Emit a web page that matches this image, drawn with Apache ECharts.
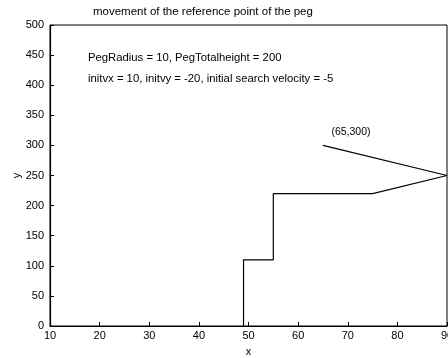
<!DOCTYPE html>
<html>
<head>
<meta charset="utf-8">
<script src="https://cdn.jsdelivr.net/npm/echarts@6/dist/echarts.min.js"></script>
<style>
html,body{margin:0;padding:0;background:#fff;}
#c{width:448px;height:358px;}
</style>
</head>
<body>
<div id="c"></div>
<script>
const pathX = [49, 49, 55, 55, 75, 90, 65];
const pathY = [0, 110, 110, 220, 220, 250, 300];
const xTicks = [10, 20, 30, 40, 50, 60, 70, 80, 90];
const yTicks = [0, 50, 100, 150, 200, 250, 300, 350, 400, 450, 500];
const titleText = 'movement of the reference point of the peg';
const note1 = 'PegRadius = 10, PegTotalheight = 200';
const note2 = 'initvx = 10, initvy = -20, initial search velocity = -5';
const pointLabel = '(65,300)';
const labelPoint = [65, 300];

const FONT = 'Liberation Sans, Arial, Helvetica, sans-serif';
const chart = echarts.init(document.getElementById('c'));
const data = pathX.map((x, i) => [x, pathY[i]]);

chart.setOption({
  animation: false,
  backgroundColor: '#fff',
  grid: { left: 50, right: 1, top: 25, bottom: 32, show: true, borderColor: '#000', borderWidth: 1,
          containLabel: false, outerBoundsMode: 'none' },
  xAxis: {
    type: 'value', min: xTicks[0], max: xTicks[xTicks.length - 1], interval: 10,
    name: 'x', nameLocation: 'middle', nameGap: 20, nameMoveOverlap: false,
    nameTextStyle: { color: '#000', fontSize: 11, fontFamily: FONT },
    axisLine: { lineStyle: { color: '#000', width: 1.2 } },
    axisTick: { inside: true, length: 4, lineStyle: { color: '#000' } },
    axisLabel: { color: '#000', fontSize: 11, fontFamily: FONT, margin: 4, showMaxLabel: true, hideOverlap: false },
    splitLine: { show: false }
  },
  yAxis: {
    type: 'value', min: yTicks[0], max: yTicks[yTicks.length - 1], interval: 50,
    name: 'y', nameLocation: 'middle', nameGap: 28, nameMoveOverlap: false,
    nameTextStyle: { color: '#000', fontSize: 11, fontFamily: FONT },
    axisLine: { show: true, lineStyle: { color: '#000', width: 1.2 } },
    axisTick: { show: true, inside: true, length: 4, lineStyle: { color: '#000' } },
    axisLabel: { color: '#000', fontSize: 11, fontFamily: FONT, margin: 6 },
    splitLine: { show: false }
  },
  series: [{
    type: 'line',
    data: data,
    showSymbol: false,
    symbol: 'none',
    lineStyle: { color: '#000', width: 1.2 },
    markPoint: {
      symbol: 'circle', symbolSize: 0,
      data: [{ coord: labelPoint }],
      label: { show: true, formatter: pointLabel, color: '#000', fontSize: 10.5, fontFamily: FONT, offset: [28, -13] }
    }
  }],
  graphic: [
    { type: 'text', left: 93, top: 6, style: { text: titleText, fill: '#000', font: '11.5px ' + FONT } },
    { type: 'text', left: 88, top: 52, style: { text: note1, fill: '#000', font: '11.3px ' + FONT } },
    { type: 'text', left: 88, top: 73, style: { text: note2, fill: '#000', font: '11.3px ' + FONT } }
  ]
});
</script>
</body>
</html>
